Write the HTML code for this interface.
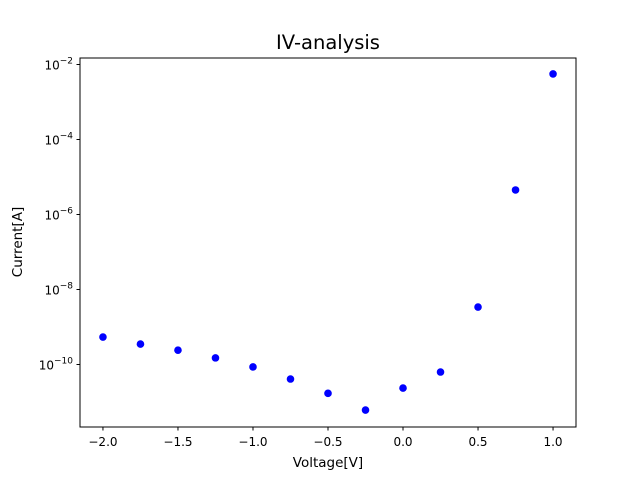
<!DOCTYPE html>
<html><head><meta charset="utf-8"><style>
html,body{margin:0;padding:0;background:#fff;}
svg{display:block;font-family:"DejaVu Sans","Liberation Sans",sans-serif;}
</style></head><body>
<svg id="chart" width="640" height="480">
<rect width="640" height="480" fill="#fff"/>
<text x="328" y="49" text-anchor="middle" font-size="19.5">IV-analysis</text>
<g id="xticks"></g><g id="yticks"></g><g id="points"></g>
<rect x="80" y="58" width="496" height="369" fill="none" stroke="#000" stroke-width="1"/>
<text x="328" y="467" text-anchor="middle" font-size="13.5">Voltage[V]</text>
<text transform="translate(22,242) rotate(-90)" text-anchor="middle" font-size="13.5">Current[A]</text>
</svg>
<script>
const voltages = [-2.0,-1.75,-1.5,-1.25,-1.0,-0.75,-0.5,-0.25,0.0,0.25,0.5,0.75,1.0];
const currents = [5.4e-10,3.5e-10,2.4e-10,1.5e-10,8.6e-11,4.1e-11,1.7e-11,6.1e-12,2.35e-11,6.3e-11,3.4e-9,4.5e-6,5.6e-3];
const xTicks = [-2.0,-1.5,-1.0,-0.5,0.0,0.5,1.0];
const xTickLabels = ["\u22122.0","\u22121.5","\u22121.0","\u22120.5","0.0","0.5","1.0"];
const yTickExps = [-10,-8,-6,-4,-2];

const NS="http://www.w3.org/2000/svg";
const X0=80,X1=576,Y0=58,Y1=427;
const xmin=-2.153,xmax=1.153,lmin=-11.667,lmax=-1.827;
const xs=v=>X0+(v-xmin)/(xmax-xmin)*(X1-X0);
const ys=v=>Y1-(Math.log10(v)-lmin)/(lmax-lmin)*(Y1-Y0);
function mk(tag,attrs,parent){const e=document.createElementNS(NS,tag);for(const k in attrs)e.setAttribute(k,attrs[k]);parent.appendChild(e);return e;}
const gx=document.getElementById('xticks'),gy=document.getElementById('yticks'),gp=document.getElementById('points');
xTicks.forEach((t,i)=>{
  const x=xs(t);
  const l=mk('line',{x1:x,x2:x,y1:Y1,y2:Y1+3.5,stroke:'#000'},gx);
  
  
  const tx=mk('text',{x:x,y:Y1+19,'text-anchor':'middle','font-size':'12'},gx);
  tx.textContent=xTickLabels[i];
  
  
});
yTickExps.forEach(e=>{
  const y=ys(Math.pow(10,e));
  const l=mk('line',{x1:X0-3.5,x2:X0,y1:y,y2:y,stroke:'#000'},gy);
  
  
  const tx=mk('text',{x:X0-7,y:y+5,'text-anchor':'end','font-size':'12'},gy);
  tx.innerHTML='10<tspan dy="-6" font-size="9">\u2212'+Math.abs(e)+'</tspan>';
  
  
});
for(let i=0;i<voltages.length;i++){
  const c=mk('circle',{cx:xs(voltages[i]),cy:ys(currents[i]),r:3.8,fill:'#0000ff'},gp);
  
  
}
</script>
</body></html>
